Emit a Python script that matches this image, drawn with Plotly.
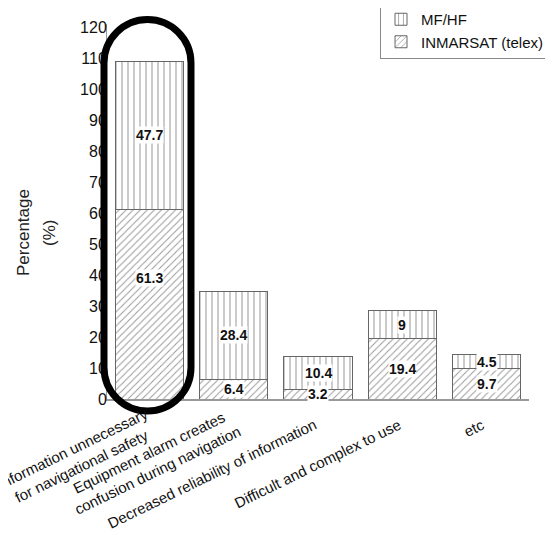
import plotly.graph_objects as go

categories = [
    "Information unnecessary<br>for navigational safety",
    "Equipment alarm creates<br>confusion during navigation",
    "Decreased reliability of information",
    "Difficult and complex to use",
    "etc",
]
inmarsat = [61.3, 6.4, 3.2, 19.4, 9.7]
mfhf = [47.7, 28.4, 10.4, 9, 4.5]
y_ticks = [0, 10, 20, 30, 40, 50, 60, 70, 80, 90, 100, 110, 120]

FONT = "Liberation Sans, Arial, sans-serif"
W, H = 553, 535
OFF = 8  # page body margin
# plot area in screen pixels
L, R, T, B = 107, 529, 24, 399


def px(x):
    return (x - L) / (R - L)


def py(y):
    return (B - y) / (B - T)


fig = go.Figure()
fig.add_trace(go.Bar(
    x=categories, y=inmarsat, name="INMARSAT (telex)",
    marker=dict(color="white", line=dict(color="#666", width=1),
                pattern=dict(shape="/", fgcolor="#333", bgcolor="white", size=5, solidity=0.2)),
))
fig.add_trace(go.Bar(
    x=categories, y=mfhf, name="MF/HF",
    marker=dict(color="white", line=dict(color="#666", width=1),
                pattern=dict(shape="|", fgcolor="#333", bgcolor="white", size=6, solidity=0.17)),
))

annotations = []
label_yshift = {(0, 0): 26}
for i, c in enumerate(categories):
    segs = [(inmarsat[i], 0), (mfhf[i], inmarsat[i])]
    for j, (v, base) in enumerate(segs):
        annotations.append(dict(
            x=c, y=base + v / 2, xref="x", yref="y", text=f"<b>{v:g}</b>",
            showarrow=False, font=dict(family=FONT, size=14, color="#111"),
            bgcolor="white", borderpad=0, yshift=label_yshift.get((i, j), 0),
        ))
    multi = "<br>" in c
    annotations.append(dict(
        x=c, y=0, xref="x", yref="paper", text=c, textangle=-26,
        xanchor="right", yanchor="top", align="center", showarrow=False,
        xshift=13 if multi else 4, yshift=-3 if multi else -14,
        font=dict(family=FONT, size=15, color="#111"),
    ))

for txt, xs in (("Percentage", 23), ("(%)", 49)):
    annotations.append(dict(
        x=px(xs), y=py(233), xref="paper", yref="paper", text=txt,
        xanchor="center", yanchor="middle",
        textangle=-90, showarrow=False, font=dict(family=FONT, size=17, color="#222"),
    ))

# highlight stadium (screen pixels)
x0, x1, yt, yb = 104, 191, 19.5, 411
r = (x1 - x0) / 2
cx = (x0 + x1) / 2
k = 0.5523 * r


def p(x, y):
    return f"{px(x):.5f},{py(y):.5f}"


path = (
    f"M {p(x0, yt + r)} L {p(x0, yb - r)} "
    f"C {p(x0, yb - r + k)} {p(cx - k, yb)} {p(cx, yb)} "
    f"C {p(cx + k, yb)} {p(x1, yb - r + k)} {p(x1, yb - r)} "
    f"L {p(x1, yt + r)} "
    f"C {p(x1, yt + r - k)} {p(cx + k, yt)} {p(cx, yt)} "
    f"C {p(cx - k, yt)} {p(x0, yt + r - k)} {p(x0, yt + r)} Z"
)

fig.update_layout(
    width=W, height=H,
    margin=dict(l=L - OFF, r=W - R + OFF, t=T - OFF, b=H - B + OFF, autoexpand=False),
    barmode="stack", bargap=0.194,
    plot_bgcolor="white", paper_bgcolor="white",
    font=dict(family=FONT, color="#111"),
    showlegend=True,
    legend=dict(x=px(549), y=py(2), xanchor="right", yanchor="top",
                bordercolor="#888", borderwidth=1, bgcolor="white",
                font=dict(family=FONT, size=15, color="#111"),
                traceorder="reversed", tracegroupgap=0, itemwidth=30),
    xaxis=dict(showticklabels=False, showline=True, linecolor="#999", linewidth=2,
               ticks="", showgrid=False, zeroline=False, range=[-0.5, 4.5]),
    yaxis=dict(range=[0, 121], tickvals=y_ticks, showline=True, linecolor="#999",
               linewidth=1, ticks="", showgrid=False, zeroline=False,
               ticklabelstandoff=-4,
               tickfont=dict(family=FONT, size=16, color="#111")),
    annotations=annotations,
    shapes=[dict(type="path", path=path, xref="paper", yref="paper",
                 line=dict(color="black", width=7), fillcolor="rgba(0,0,0,0)",
                 layer="above")],
)

fig.write_html("out.html")
